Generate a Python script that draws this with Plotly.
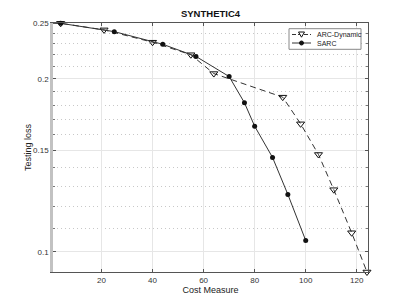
import numpy as np
import plotly.graph_objects as go

arc_x = [1, 4, 21, 40, 55, 64, 91, 98, 105, 111, 118, 124]
arc_y = [0.25, 0.2497, 0.2432, 0.2315, 0.2202, 0.2042, 0.1858, 0.167, 0.1477, 0.1283, 0.108, 0.0923]
sarc_x = [1, 4, 25, 44, 57, 70, 76, 80, 87, 93, 100]
sarc_y = [0.25, 0.2497, 0.2415, 0.2296, 0.2187, 0.2018, 0.1817, 0.1654, 0.146, 0.1259, 0.1047]

x_ticks = [20, 40, 60, 80, 100, 120]
y_ticks = [0.1, 0.15, 0.2, 0.25]
y_ticklabels = ["0.1", "0.15", "0.2", "0.25"]
y_minor = [0.11, 0.12, 0.13, 0.14, 0.16, 0.17, 0.18, 0.19, 0.21, 0.22, 0.23, 0.24]
series_names = ["ARC-Dynamic", "SARC"]

FONT = "Liberation Sans, Arial, Helvetica, sans-serif"
W, H = 407, 305
ML, MR, MT, MB = 53, 39, 23, 33
PW, PH = W - ML - MR, H - MT - MB


def px(x):
    return (x - ML) / PW


def py(y):
    return (H - MB - y) / PH


fig = go.Figure()
fig.add_trace(go.Scatter(
    x=arc_x, y=arc_y, name=series_names[0], mode="lines+markers",
    line=dict(color="#333333", width=1, dash="6px,4px"),
    marker=dict(symbol="triangle-down-open", size=7, color="#111111", line=dict(width=1, color="#111111")),
    cliponaxis=False,
))
fig.add_trace(go.Scatter(
    x=sarc_x, y=sarc_y, name=series_names[1], mode="lines+markers",
    line=dict(color="#333333", width=1),
    marker=dict(symbol="circle", size=5, color="#111111"),
    cliponaxis=False,
))
# invisible trace to anchor the mirrored right axis
fig.add_trace(go.Scatter(x=[], y=[], yaxis="y2", showlegend=False, hoverinfo="skip"))

# custom compact legend (MATLAB style)
shapes = [
    dict(type="rect", xref="paper", yref="paper", x0=px(289), x1=px(361), y0=py(49.3), y1=py(28.7),
         line=dict(color="#888888", width=1), fillcolor="white", layer="above"),
    dict(type="line", xref="paper", yref="paper", x0=px(292), x1=px(311), y0=py(34.5), y1=py(34.5),
         line=dict(color="#333333", width=1, dash="4px,2px"), layer="above"),
    dict(type="path", xref="paper", yref="paper",
         path=f"M {px(298.5)},{py(32)} L {px(304.5)},{py(32)} L {px(301.5)},{py(37.2)} Z",
         line=dict(color="#111111", width=1), fillcolor="white", layer="above"),
    dict(type="line", xref="paper", yref="paper", x0=px(292), x1=px(311), y0=py(43), y1=py(43),
         line=dict(color="#333333", width=1), layer="above"),
    dict(type="circle", xref="paper", yref="paper", x0=px(299.5), x1=px(303.5), y0=py(45), y1=py(41),
         line=dict(color="#111111", width=1), fillcolor="#111111", layer="above"),
]
annotations = [
    dict(text=series_names[0], xref="paper", yref="paper", x=px(314.5), y=py(34.5), xanchor="left",
         yanchor="middle", showarrow=False, font=dict(size=7, color="#222222")),
    dict(text=series_names[1], xref="paper", yref="paper", x=px(314.5), y=py(43), xanchor="left",
         yanchor="middle", showarrow=False, font=dict(size=7, color="#222222")),
]

fig.update_layout(
    width=W, height=H,
    margin=dict(l=ML, r=MR, t=MT, b=MB, autoexpand=False),
    paper_bgcolor="white", plot_bgcolor="white",
    font=dict(family=FONT, size=8, color="#333333"),
    title=dict(text="<b>SYNTHETIC4</b>", x=(ML + W - MR) / 2 / W, xanchor="center",
               y=1 - 14 / H, yanchor="middle", font=dict(size=9.5, color="#111111")),
    showlegend=False,
    shapes=shapes, annotations=annotations,
)

fig.update_xaxes(
    range=[1, 124.4], tickvals=x_ticks, ticks="inside", ticklen=3,
    tickcolor="#555555", showline=True, linecolor="#555555", linewidth=1, mirror="ticks",
    showgrid=True, gridcolor="#e6e6e6", gridwidth=1, zeroline=False, automargin=False,
    title=dict(text="Cost Measure", font=dict(size=9, color="#222222"), standoff=3),
    tickfont=dict(size=8, color="#333333"),
)
yrange = [np.log10(0.0923), np.log10(0.25)]
fig.update_layout(
    yaxis=dict(
        type="log", range=yrange,
        tickvals=y_ticks, ticktext=y_ticklabels, ticks="inside", ticklen=3,
        tickcolor="#555555", showline=True, linecolor="#c2c2c2", linewidth=2.5, mirror=False,
        showgrid=True, gridcolor="#e6e6e6", gridwidth=1, zeroline=False, automargin=False,
        minor=dict(tickvals=y_minor, showgrid=True, gridcolor="#c8c8c8", griddash="1px,3px",
                   gridwidth=1, ticks="inside", ticklen=2, tickcolor="#777777"),
        title=dict(text="Testing loss", font=dict(size=9, color="#222222"), standoff=0),
        tickfont=dict(size=8, color="#333333"),
    ),
    yaxis2=dict(
        type="log", range=yrange, overlaying="y", side="right",
        tickvals=y_ticks, ticks="inside", ticklen=3, tickcolor="#555555",
        showticklabels=False, showline=True, linecolor="#555555", linewidth=1,
        showgrid=False, zeroline=False, automargin=False,
        minor=dict(tickvals=y_minor, showgrid=False, ticks="inside", ticklen=2, tickcolor="#777777"),
    ),
)

fig.write_html("out.html", config={"displayModeBar": False},
               post_script="document.body.style.margin='0';")
